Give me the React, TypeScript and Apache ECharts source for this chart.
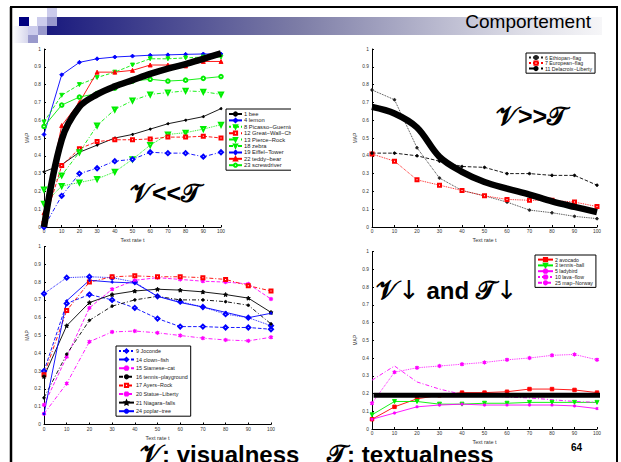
import React, { useEffect, useRef } from "react";
import * as echarts from "echarts";

// ---------- data ----------
const TEXT_RATE = [0, 10, 20, 30, 40, 50, 60, 70, 80, 90, 100];

// top-left (V << T)
const bee = [0.31, 0.35, 0.42, 0.46, 0.5, 0.52, 0.55, 0.58, 0.6, 0.62, 0.665];
const lemon = [0.52, 0.855, 0.925, 0.945, 0.955, 0.96, 0.965, 0.967, 0.97, 0.972, 0.972];
const picasso = [0.13, 0.23, 0.25, 0.27, 0.31, 0.38, 0.46, 0.52, 0.53, 0.55, 0.575];
const greatWall = [0.02, 0.345, 0.44, 0.48, 0.49, 0.49, 0.495, 0.505, 0.505, 0.51, 0.5];
const pierceRock = [0.59, 0.74, 0.8, 0.84, 0.87, 0.91, 0.945, 0.945, 0.95, 0.955, 0.955];
const zebra = [0.21, 0.29, 0.42, 0.57, 0.66, 0.71, 0.745, 0.755, 0.765, 0.76, 0.745];
const eiffel = [0.0, 0.175, 0.3, 0.33, 0.37, 0.38, 0.42, 0.415, 0.415, 0.395, 0.42];
const teddy = [0.08, 0.57, 0.7, 0.87, 0.87, 0.88, 0.91, 0.91, 0.905, 0.93, 0.93];
const screwdriver = [0.565, 0.685, 0.73, 0.75, 0.78, 0.82, 0.83, 0.82, 0.825, 0.835, 0.845];
const trendTL = [0.0, 0.49, 0.675, 0.745, 0.79, 0.825, 0.86, 0.89, 0.915, 0.945, 0.975];

// top-right (V >> T)
const ethiopan = [0.77, 0.715, 0.445, 0.275, 0.205, 0.175, 0.14, 0.095, 0.08, 0.06, 0.047];
const european = [0.41, 0.37, 0.265, 0.235, 0.205, 0.175, 0.155, 0.15, 0.15, 0.14, 0.115];
const delacroix = [0.415, 0.415, 0.4, 0.37, 0.34, 0.335, 0.3, 0.3, 0.29, 0.29, 0.235];
const trendTR = [0.675, 0.638, 0.559, 0.394, 0.31, 0.253, 0.216, 0.182, 0.144, 0.113, 0.084];

// bottom-left
const joconde = [0.735, 0.825, 0.83, 0.825, 0.8, 0.72, 0.69, 0.66, 0.62, 0.6, 0.555];
const clownFish = [0.3, 0.68, 0.73, 0.7, 0.655, 0.595, 0.55, 0.55, 0.545, 0.545, 0.535];
const siamese = [0.11, 0.38, 0.655, 0.76, 0.81, 0.825, 0.815, 0.805, 0.8, 0.79, 0.705];
const tennisPlayground = [0.15, 0.395, 0.585, 0.665, 0.7, 0.72, 0.7, 0.7, 0.69, 0.67, 0.565];
const ayersRock = [0.28, 0.64, 0.8, 0.83, 0.835, 0.83, 0.83, 0.825, 0.815, 0.78, 0.75];
const statueLiberty = [0.06, 0.23, 0.465, 0.52, 0.525, 0.515, 0.5, 0.485, 0.475, 0.47, 0.49];
const niagara = [0.27, 0.555, 0.685, 0.73, 0.75, 0.76, 0.755, 0.745, 0.73, 0.71, 0.63];
const poplar = [0.06, 0.695, 0.81, 0.8, 0.795, 0.72, 0.685, 0.66, 0.63, 0.6, 0.625];

// bottom-right (V low and T low)
const avocado = [0.055, 0.125, 0.17, 0.19, 0.205, 0.205, 0.21, 0.225, 0.225, 0.22, 0.205];
const tennisBall = [0.08, 0.155, 0.155, 0.14, 0.14, 0.145, 0.145, 0.15, 0.15, 0.15, 0.15];
const ladybird = [0.055, 0.09, 0.125, 0.135, 0.14, 0.135, 0.135, 0.135, 0.135, 0.13, 0.115];
const lavaFlow = [0.145, 0.32, 0.345, 0.355, 0.365, 0.375, 0.39, 0.4, 0.415, 0.42, 0.39];
const mapNorway = [0.275, 0.355, 0.265, 0.225, 0.195, 0.19, 0.18, 0.175, 0.165, 0.155, 0.15];
const trendBR_X = [0.7, 103.7];
const trendBR = [0.19, 0.19];

const LEGEND_TL = ["1 bee", "4 lemon", "8 Picasso\u2212Guernica", "12 Great\u2212Wall\u2212China", "13 Pierce\u2212Rock", "18 zebra", "19 Eiffel\u2212Tower", "22 teddy\u2212bear", "23 screwdriver"];
const LEGEND_TR = ["6 Ethiopan\u2212flag", "7 European\u2212flag", "11 Delacroix\u2212Liberty"];
const LEGEND_BL = ["9 Joconde", "14 clown\u2212fish", "15 Siamese\u2212cat", "16 tennis\u2212playground", "17 Ayers\u2212Rock", "20 Statue\u2212Liberty", "21 Niagara\u2212falls", "24 poplar\u2212tree"];
const LEGEND_BR = ["2 avocado", "3 tennis\u2212ball", "5 ladybird", "10 lava\u2212flow", "25 map\u2212Norway"];

// ---------- styling helpers ----------
const BLUE = "#0000ff";
const RED = "#ff0000";
const GREEN = "#00ee00";
const MAG = "#ff00ff";
const BLACK = "#000000";
const DASHDOT = [4, 2, 1, 2];
const STAR = "path://M0,-10L2.9,-4L9.5,-3.1L4.7,1.5L5.9,8.1L0,5L-5.9,8.1L-4.7,1.5L-9.5,-3.1L-2.9,-4Z";
const ASTER = "path://M-0.8,-5H0.8V5H-0.8Z M-4.7,-2.2L-3.9,-3.4L4.7,2.2L3.9,3.4Z M-4.7,2.2L-3.9,3.4L4.7,-2.2L3.9,-3.4Z";
const FONT = "Liberation Sans, Arial, sans-serif";

function pairs(ys: number[], xs: number[] = TEXT_RATE) {
  return ys.map((y, i) => [xs[i], y]);
}

function line(
  name: string,
  ys: number[],
  g: number,
  color: string,
  type: any,
  symbol: string,
  size: number,
  rotate = 0
) {
  return {
    name,
    type: "line",
    xAxisIndex: g,
    yAxisIndex: g,
    data: pairs(ys),
    symbol,
    symbolSize: size,
    symbolRotate: rotate,
    showSymbol: symbol !== "none",
    lineStyle: { color, width: 0.9, type },
    itemStyle: { color, borderColor: color, borderWidth: 0.9 },
    z: 3,
  };
}

function trend(ys: number[], g: number, width: number, xs: number[] = TEXT_RATE) {
  return {
    name: "trend" + g,
    type: "line",
    xAxisIndex: g,
    yAxisIndex: g,
    data: pairs(ys, xs),
    symbol: "none",
    smooth: 0.35,
    clip: false,
    lineStyle: { color: "#000", width },
    z: 5,
  };
}

const GRIDS = [
  { left: 44, top: 49, width: 177, height: 178 },
  { left: 372, top: 49, width: 225, height: 178 },
  { left: 44, top: 246.5, width: 227, height: 178 },
  { left: 372, top: 251.5, width: 225, height: 177.5 },
];

function xAxis(g: number) {
  return {
    type: "value",
    gridIndex: g,
    min: 0,
    max: 100,
    interval: 10,
    name: "Text rate t",
    nameLocation: "middle",
    nameGap: 10,
    nameTextStyle: { fontSize: 5.5, color: "#333", fontFamily: FONT },
    axisLine: { lineStyle: { color: "#000", width: 1 } },
    axisTick: { inside: true, length: 2, lineStyle: { color: "#000" } },
    axisLabel: { fontSize: 4.8, color: "#333", margin: 2, fontFamily: FONT },
    splitLine: { show: false },
  };
}

function yAxis(g: number) {
  return {
    type: "value",
    gridIndex: g,
    min: 0,
    max: 1,
    interval: 0.1,
    name: "MAP",
    nameLocation: "middle",
    nameGap: 13,
    nameRotate: 90,
    nameTextStyle: { fontSize: 4.8, color: "#333", fontFamily: FONT },
    axisLine: { lineStyle: { color: "#000", width: 1 } },
    axisTick: { inside: true, length: 2, lineStyle: { color: "#000" } },
    axisLabel: {
      fontSize: 4.8,
      color: "#333",
      margin: 3,
      fontFamily: FONT,
      formatter: (v: number) => String(+v.toFixed(1)),
    },
    splitLine: { show: false },
  };
}

function legend(data: string[], left: number, top: number, gap: number, iw: number, fs: number, lh: number) {
  return {
    orient: "vertical",
    left,
    top,
    data,
    selectedMode: false,
    padding: [2, 3, 2, 2],
    itemGap: gap,
    itemWidth: iw,
    itemHeight: 4,
    backgroundColor: "#fff",
    borderColor: "#000",
    borderWidth: 1,
    borderRadius: 0,
    textStyle: { fontSize: fs, lineHeight: lh, color: "#222", fontFamily: FONT, padding: [0, 0, 0, -3] },
    z: 10,
  };
}

const SCRIPT = "DejaVu Serif, DejaVu Sans, serif";

export default function App() {
  const ref = useRef<HTMLDivElement>(null);
  useEffect(() => {
    if (!ref.current) return;
    const chart = echarts.init(ref.current, null, { renderer: "svg" });
    const series: any[] = [
      // TL
      line(LEGEND_TL[0], bee, 0, BLACK, "solid", "circle", 2),
      line(LEGEND_TL[1], lemon, 0, BLUE, "solid", "diamond", 4),
      line(LEGEND_TL[2], picasso, 0, GREEN, "dotted", "emptyTriangle", 4, 180),
      line(LEGEND_TL[3], greatWall, 0, RED, "dashed", "emptyRect", 3),
      line(LEGEND_TL[4], pierceRock, 0, GREEN, "dashed", "triangle", 4, 180),
      line(LEGEND_TL[5], zebra, 0, GREEN, DASHDOT, "emptyTriangle", 4, 180),
      line(LEGEND_TL[6], eiffel, 0, BLUE, DASHDOT, "emptyDiamond", 4),
      line(LEGEND_TL[7], teddy, 0, RED, "solid", "triangle", 4),
      line(LEGEND_TL[8], screwdriver, 0, GREEN, "solid", "emptyCircle", 3.5),
      trend(trendTL, 0, 6.5),
      // TR
      line(LEGEND_TR[0], ethiopan, 1, "#222", "dotted", "circle", 2.5),
      line(LEGEND_TR[1], european, 1, RED, "dotted", "emptyRect", 3),
      line(LEGEND_TR[2], delacroix, 1, BLACK, "dashed", "circle", 2.5),
      trend(trendTR, 1, 6.5),
      // BL
      line(LEGEND_BL[0], joconde, 2, BLUE, "dotted", "emptyDiamond", 4),
      line(LEGEND_BL[1], clownFish, 2, BLUE, "dashed", "emptyDiamond", 4),
      line(LEGEND_BL[2], siamese, 2, MAG, "dashed", ASTER, 3.5),
      line(LEGEND_BL[3], tennisPlayground, 2, BLACK, DASHDOT, "circle", 2.5),
      line(LEGEND_BL[4], ayersRock, 2, RED, DASHDOT, "emptyRect", 3),
      line(LEGEND_BL[5], statueLiberty, 2, MAG, DASHDOT, ASTER, 3.5),
      line(LEGEND_BL[6], niagara, 2, BLACK, "solid", STAR, 4),
      line(LEGEND_BL[7], poplar, 2, BLUE, "solid", "circle", 2),
      // BR
      line(LEGEND_BR[0], avocado, 3, RED, "solid", "rect", 3.5),
      line(LEGEND_BR[1], tennisBall, 3, GREEN, "solid", "triangle", 4, 180),
      line(LEGEND_BR[2], ladybird, 3, MAG, "solid", ASTER, 2.5),
      line(LEGEND_BR[3], lavaFlow, 3, MAG, "dotted", ASTER, 3.5),
      line(LEGEND_BR[4], mapNorway, 3, MAG, DASHDOT, "none", 3),
      trend(trendBR, 3, 5, trendBR_X),
    ];
    series[series.length - 1].smooth = false;

    const gradient = new echarts.graphic.LinearGradient(0, 0, 1, 0, [
      { offset: 0, color: "#1a1a7e" },
      { offset: 0.45, color: "#7c7ca6" },
      { offset: 0.85, color: "#dcdce6" },
      { offset: 1, color: "#f6f6f8" },
    ]);

    const big = { fontSize: 24, fontWeight: "bold", fill: "#000", fontFamily: FONT };
    const sym = { fontSize: 25, fontWeight: "bold", fill: "#000", fontFamily: FONT };
    const scr = { fontSize: 26, fontWeight: "bold", fill: "#000", fontFamily: SCRIPT };
    const arrow = { fontSize: 26, fontWeight: "normal", fill: "#000", fontFamily: "DejaVu Sans, sans-serif" };

    chart.setOption({
      animation: false,
      backgroundColor: "#fff",
      grid: GRIDS.map((g) => ({ ...g, containLabel: false })),
      xAxis: [0, 1, 2, 3].map(xAxis),
      yAxis: [0, 1, 2, 3].map(yAxis),
      legend: [
        legend(LEGEND_TL, 226, 109, 0.4, 13, 5.8, 6),
        legend(LEGEND_TR, 526, 53, 0.3, 14, 5.2, 5),
        legend(LEGEND_BL, 116, 346, 2.6, 15, 5.4, 6),
        legend(LEGEND_BR, 535, 255, 0.6, 15, 5.2, 5),
      ],
      series,
      graphic: [
        // slide frame
        { type: "line", z: 50, shape: { x1: 10, y1: 7, x2: 618, y2: 7 }, style: { stroke: "#000", lineWidth: 2 } },
        { type: "line", z: 50, shape: { x1: 11, y1: 7, x2: 11, y2: 462 }, style: { stroke: "#000", lineWidth: 2.5 } },
        { type: "line", z: 50, shape: { x1: 617, y1: 7, x2: 617, y2: 462 }, style: { stroke: "#000", lineWidth: 2 } },
        // clip of the TL legend
        { type: "rect", z: 40, shape: { x: 291, y: 104, width: 60, height: 70 }, style: { fill: "#fff" } },
        // title bar
        { type: "rect", z: 20, shape: { x: 47, y: 17, width: 555, height: 18 }, style: { fill: gradient } },
        { type: "rect", z: 21, shape: { x: 12, y: 26, width: 16, height: 17 }, style: { fill: new echarts.graphic.LinearGradient(0, 0, 1, 0, [{ offset: 0, color: "#ffffff" }, { offset: 1, color: "#d6d6ec" }]) } },
        { type: "rect", z: 21, shape: { x: 19, y: 17, width: 10, height: 9 }, style: { fill: "#000080" } },
        { type: "rect", z: 21, shape: { x: 37, y: 17, width: 10, height: 9 }, style: { fill: "#ccccec" } },
        { type: "rect", z: 21, shape: { x: 47, y: 7, width: 10, height: 10 }, style: { fill: "#ccccec" } },
        { type: "rect", z: 21, shape: { x: 47, y: 17, width: 10, height: 9 }, style: { fill: "#9999cc" } },
        { type: "rect", z: 21, shape: { x: 28, y: 26, width: 10, height: 9 }, style: { fill: "#ccccec" } },
        { type: "rect", z: 21, shape: { x: 38, y: 26, width: 9, height: 9 }, style: { fill: "#9999cc" } },
        { type: "rect", z: 21, shape: { x: 28, y: 35, width: 10, height: 8 }, style: { fill: "#9999cc" } },
        { type: "text", z: 22, x: 591, y: 31, style: { text: "Comportement", fontSize: 19, fill: "#000", fontFamily: FONT, textAlign: "right", textVerticalAlign: "bottom" } },
        // annotations
        {
          type: "text", z: 30, x: 130, y: 206,
          style: { text: "{s|\u{1D4B1}}{o|<<}{s|\u{1D4AF}}", textAlign: "left", textVerticalAlign: "bottom", rich: { s: scr, o: sym } },
        },
        {
          type: "text", z: 30, x: 496, y: 129,
          style: { text: "{s|\u{1D4B1}}{o|>>}{s|\u{1D4AF}}", textAlign: "left", textVerticalAlign: "bottom", rich: { s: scr, o: sym } },
        },
        {
          type: "text", z: 30, x: 376, y: 303,
          style: {
            text: "{s|\u{1D4B1}}{r|\u2193}{a| and }{s|\u{1D4AF}}{r|\u2193}",
            textAlign: "left", textVerticalAlign: "bottom",
            rich: { s: scr, a: big, r: arrow },
          },
        },
        {
          type: "text", z: 30, x: 140, y: 467,
          style: {
            text: "{s|\u{1D4B1}}{a|: visualness}",
            textAlign: "left", textVerticalAlign: "bottom",
            rich: { s: scr, a: big },
          },
        },
        {
          type: "text", z: 30, x: 327, y: 467,
          style: {
            text: "{s|\u{1D4AF}}{a|: textualness}",
            textAlign: "left", textVerticalAlign: "bottom",
            rich: { s: scr, a: big },
          },
        },
        { type: "text", z: 30, x: 571, y: 452, style: { text: "64", fontSize: 10, fontWeight: "bold", fill: "#000", fontFamily: FONT, textAlign: "left", textVerticalAlign: "bottom" } },
      ],
    });
    return () => chart.dispose();
  }, []);
  return <div ref={ref} style={{ position: "fixed", left: 0, top: 0, width: 621, height: 462 }} />;
}
